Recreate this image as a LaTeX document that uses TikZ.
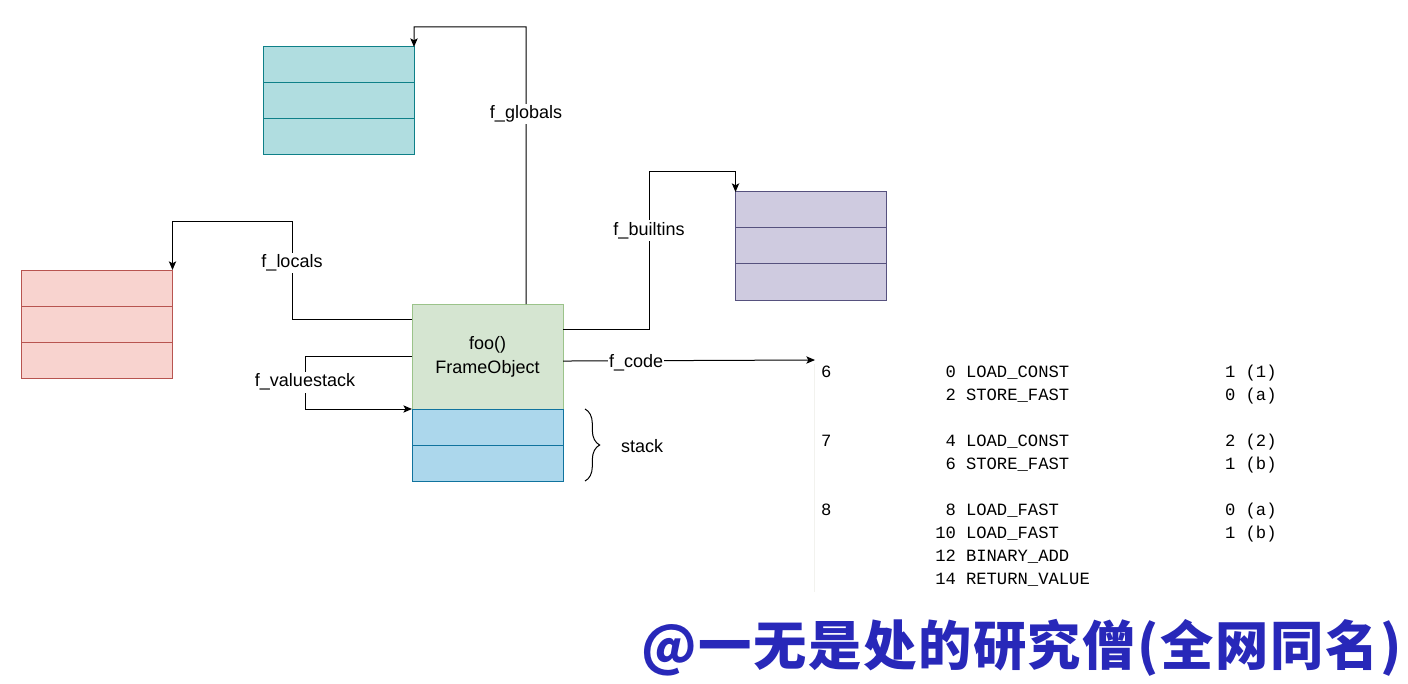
\documentclass[tikz,border=0pt]{standalone}
\usepackage{fontspec}
\setmainfont{Liberation Sans}
\newfontfamily\codefont{Liberation Mono}
\newfontfamily\cjkfont[LetterSpace=3]{Noto Sans CJK SC}
\usetikzlibrary{arrows.meta,calc,decorations.pathreplacing}
\definecolor{tealfill}{HTML}{B0DDE0}
\definecolor{tealdraw}{HTML}{0E8088}
\definecolor{redfill}{HTML}{F8D3CF}
\definecolor{reddraw}{HTML}{B85450}
\definecolor{purfill}{HTML}{CFCBE0}
\definecolor{purdraw}{HTML}{56517E}
\definecolor{grnfill}{HTML}{D5E5D1}
\definecolor{grndraw}{HTML}{9BC38A}
\definecolor{bluefill}{HTML}{ACD7EC}
\definecolor{bluedraw}{HTML}{10739E}
\definecolor{markcol}{RGB}{40,40,185}
\definecolor{faint}{HTML}{F2F2EE}
\begin{document}
\begin{tikzpicture}[x=0.75pt,y=-0.75pt,
  every node/.style={inner sep=0pt,outer sep=0pt},
  box/.style={draw,line width=0.75pt,minimum width=113.25pt,minimum height=81pt},
  arr/.style={draw,line width=0.75pt,-{Stealth[length=6.5pt,width=5.5pt,inset=1.5pt]}},
  lbl/.style={fill=white,inner sep=1.5pt,font=\fontsize{13.5pt}{16pt}\selectfont},
  code/.style={font=\codefont\fontsize{12.9pt}{15pt}\selectfont}]
\useasboundingbox (0,0) rectangle (1408,684);
% three tables
\node[box,fill=tealfill,draw=tealdraw] (glob) at (338.5,101) {};
\node[box,fill=redfill,draw=reddraw] (loc) at (97,324) {};
\node[box,fill=purfill,draw=purdraw] (built) at (811,246) {};
\foreach \b/\c in {glob/tealdraw,loc/reddraw,built/purdraw}{
  \draw[\c,line width=0.75pt] ($(\b.north west)!1/3!(\b.south west)$) -- ($(\b.north east)!1/3!(\b.south east)$);
  \draw[\c,line width=0.75pt] ($(\b.north west)!2/3!(\b.south west)$) -- ($(\b.north east)!2/3!(\b.south east)$);
}
% frame object and stack
\node[draw=grndraw,fill=grnfill,line width=0.75pt,minimum width=113.25pt,minimum height=78.75pt,align=center,
      font=\fontsize{13.5pt}{18pt}\selectfont] (frame) at (487.5,356.5) {foo()\\FrameObject};
\node[draw=bluedraw,fill=bluefill,line width=0.75pt,minimum width=113.25pt,minimum height=54pt] (stack) at (487.5,445) {};
\draw[bluedraw,line width=0.75pt] (stack.west) -- (stack.east);
% brace
\draw[line width=0.75pt,decorate,decoration={brace,amplitude=11pt}]
  ([xshift=16.5pt]stack.north east) -- ([xshift=16.5pt]stack.south east);
\node[font=\fontsize{13.5pt}{16pt}\selectfont] (stacklbl) at (642,446) {stack};
% bend points
\coordinate (globtop) at (526,27);
\coordinate (locbend) at (292,222);
\coordinate (vsbend) at (305,409);
\coordinate (bbend) at (649,172);
\coordinate (codein) at (815,360);
% connectors
\draw[arr] ([xshift=28.9pt]frame.north) -- node[lbl,pos=0.686]{f\_globals} (globtop) -| (glob.north east);
\draw[arr] ([yshift=27.4pt]frame.west) -| node[lbl,pos=0.79]{f\_locals} (locbend) -| (loc.north east);
\draw[arr] (frame.west) -| node[lbl,pos=0.745]{f\_valuestack} (vsbend) -- (stack.north west);
\draw[arr] ([yshift=19.9pt]frame.east) -| node[lbl,pos=0.815]{f\_builtins} (bbend) -| (built.north west);
\draw[arr] ([yshift=-3.4pt]frame.east) -- node[lbl,pos=0.29,inner sep=0.5pt,yshift=-1.5pt]{f\_code} (codein);
% code listing
\draw[faint,line width=0.75pt] (814,364) -- (814,592);
\foreach \y/\ln/\off/\op/\arg in {
  373/6/0/LOAD\_CONST/1 (1),
  396//2/STORE\_FAST/0 (a),
  442/7/4/LOAD\_CONST/2 (2),
  465//6/STORE\_FAST/1 (b),
  511/8/8/LOAD\_FAST/0 (a),
  534//10/LOAD\_FAST/1 (b),
  557//12/BINARY\_ADD/,
  580//14/RETURN\_VALUE/}{
  \node[code,anchor=west] at (821,\y) {\strut\ln};
  \node[code,anchor=east] at (956,\y) {\strut\off};
  \node[code,anchor=west] at (966,\y) {\strut\op};
  \node[code,anchor=west] at (1225,\y) {\strut\arg};
}
% watermark
\node[text=markcol,font=\cjkfont\bfseries\fontsize{40pt}{44pt}\selectfont] (mark) at (1021.5,648) {@一无是处的研究僧(全网同名)};
\end{tikzpicture}
\end{document}
